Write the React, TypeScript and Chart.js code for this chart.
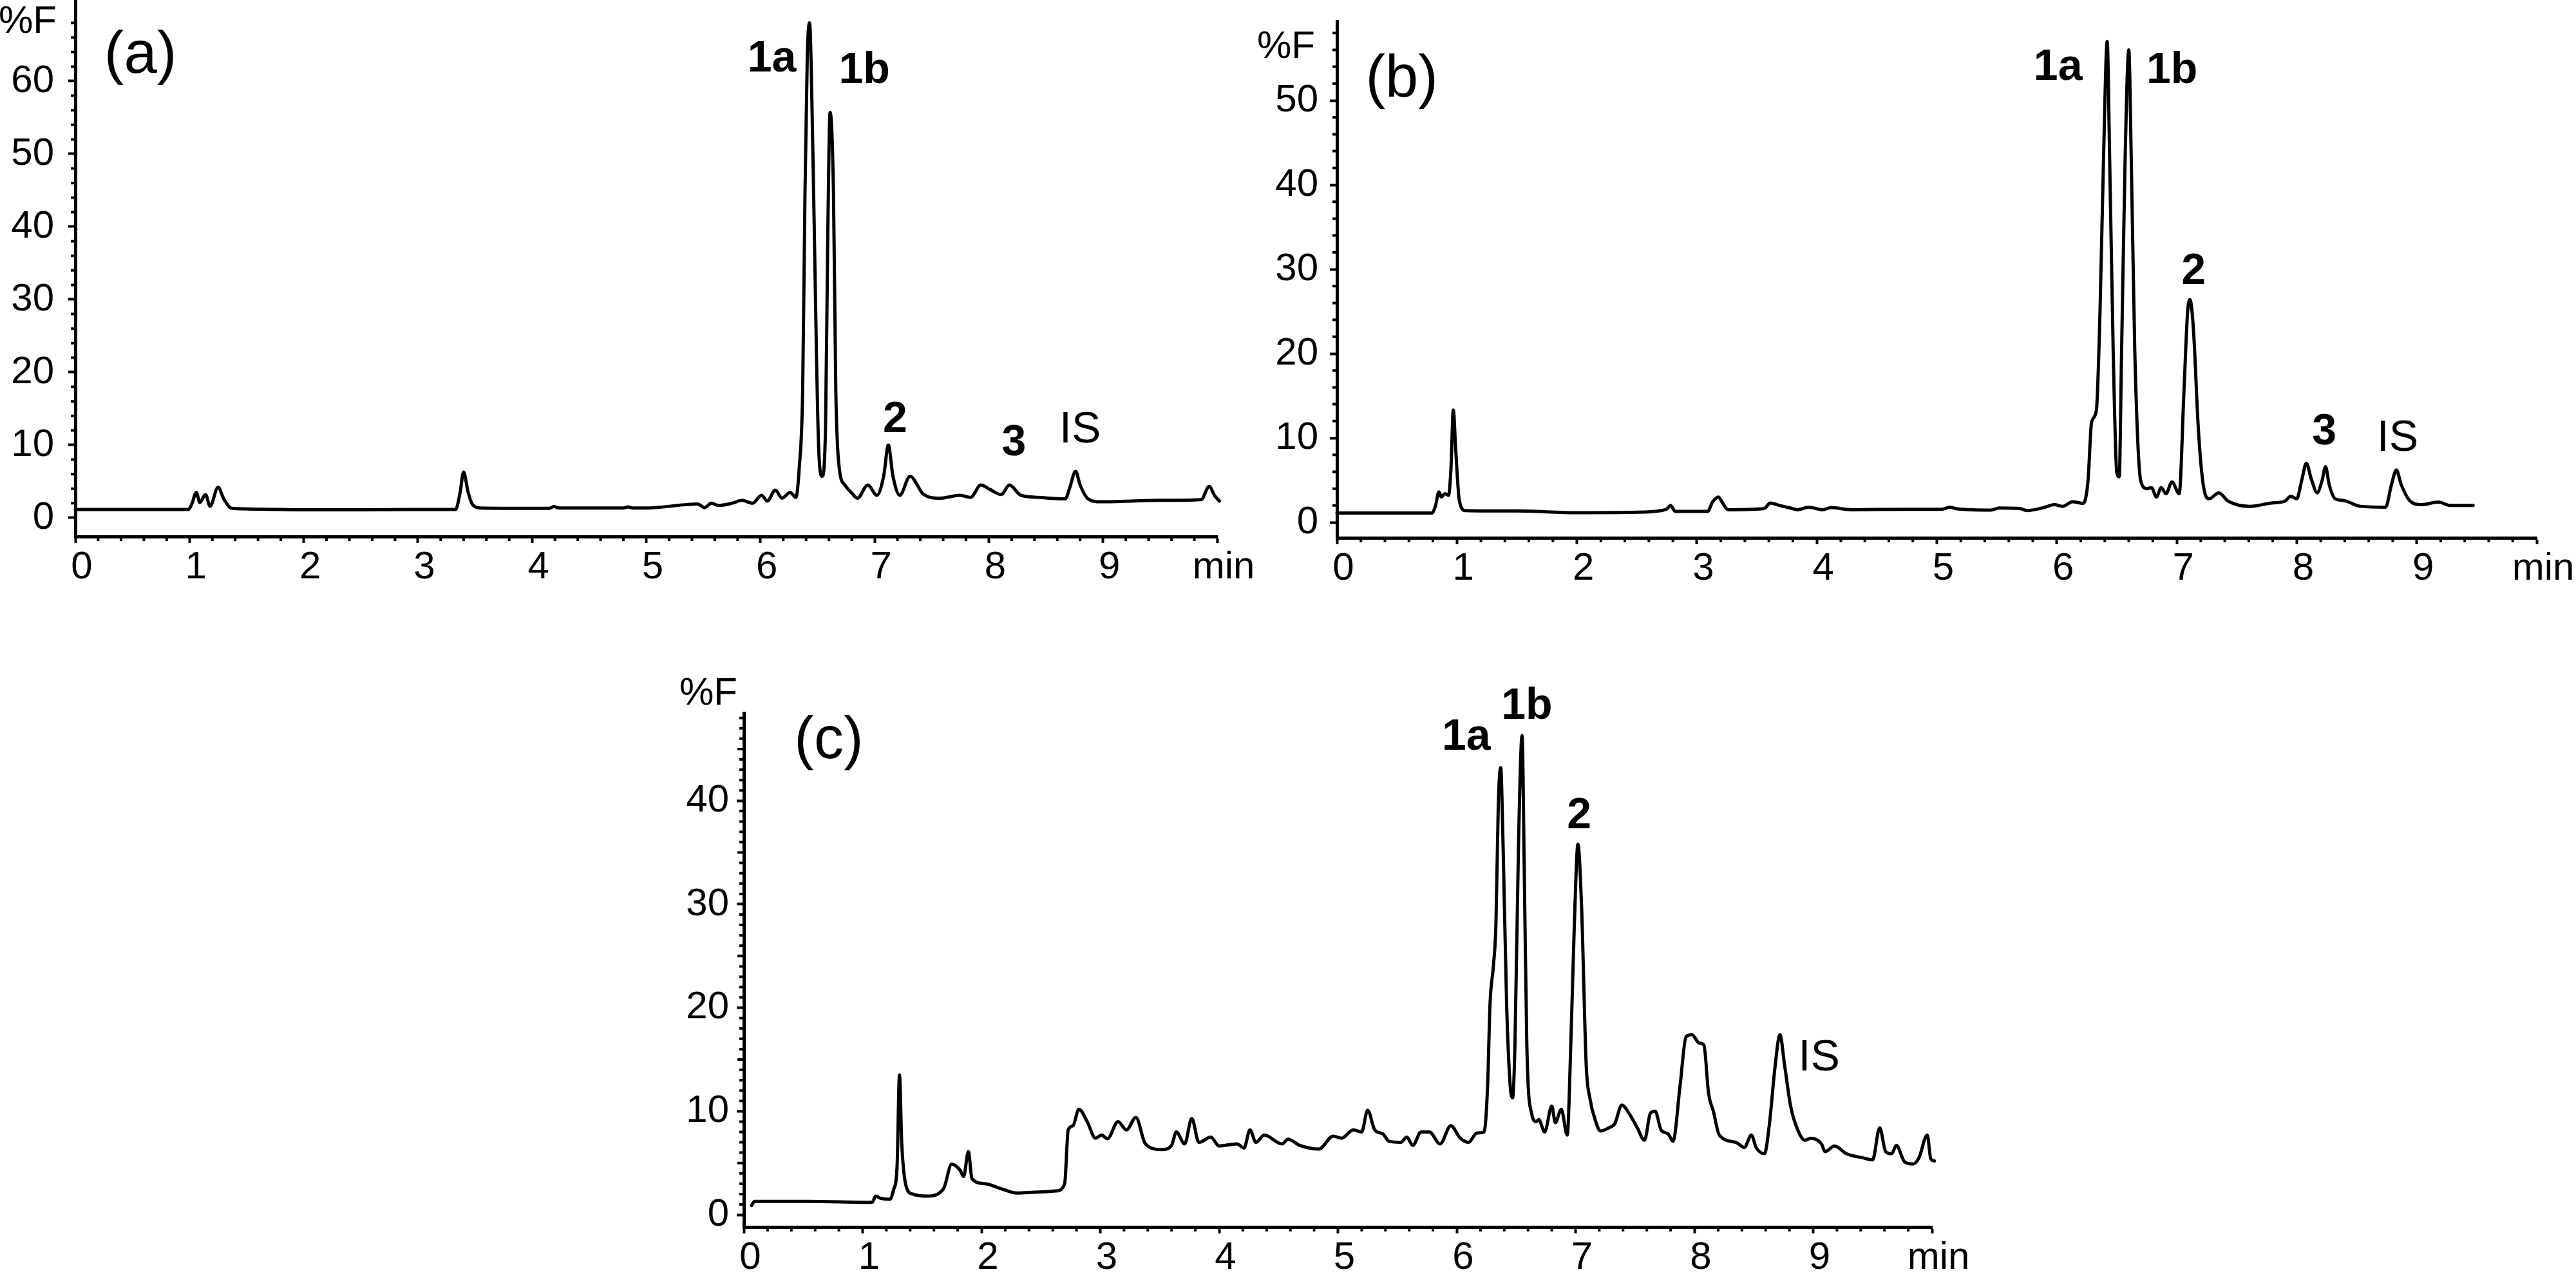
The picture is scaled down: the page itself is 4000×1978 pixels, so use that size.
import React, { useEffect, useRef } from 'react';
import { Chart, registerables } from 'chart.js';

Chart.register(...registerables);

const FONT = "'Liberation Sans', Arial, Helvetica, sans-serif";
Chart.defaults.font.family = FONT;
Chart.defaults.color = '#000';

// ---------- shared tick labels ----------
const xTickLabels = ['0', '1', '2', '3', '4', '5', '6', '7', '8', '9', 'min'];

// ---------- panel (a) ----------
const aTime = [0, 0.99, 1.02, 1.06, 1.09, 1.14, 1.18, 1.25, 1.30, 1.37,
  1.6, 2.0, 2.5, 3.0, 3.33, 3.37, 3.40, 3.44, 3.48, 3.55,
  4.0, 4.15, 4.19, 4.24, 4.8, 4.84, 4.88, 5.0, 5.34, 5.45,
  5.51, 5.57, 5.63, 5.75, 5.84, 5.93, 6.01, 6.06, 6.13, 6.19,
  6.26, 6.31, 6.34, 6.37, 6.39, 6.41, 6.43, 6.46, 6.49, 6.51,
  6.54, 6.57, 6.59, 6.61, 6.64, 6.66, 6.69, 6.74, 6.80, 6.85,
  6.94, 7.02, 7.08, 7.12, 7.16, 7.22, 7.31, 7.43, 7.57, 7.75,
  7.84, 7.93, 8.01, 8.11, 8.18, 8.28, 8.44, 8.67, 8.71, 8.76,
  8.80, 8.87, 8.98, 9.5, 9.86, 9.93, 9.98, 10.02];
const aSignal = [1.15, 1.15, 1.9, 3.5, 2.1, 3.2, 1.6, 4.2, 2.6, 1.3,
  1.2, 1.1, 1.1, 1.15, 1.15, 3.5, 6.3, 3.5, 1.8, 1.35,
  1.3, 1.3, 1.55, 1.35, 1.35, 1.5, 1.35, 1.35, 1.8, 1.9,
  1.4, 2.0, 1.7, 2.0, 2.4, 2.0, 3.1, 2.3, 3.8, 2.7,
  3.5, 2.8, 6.9, 17.6, 44.4, 63.2, 68.0, 49.8, 23.0, 9.6,
  5.7, 12.2, 39.1, 55.7, 44.4, 17.6, 6.9, 4.5, 3.4, 2.7,
  4.5, 3.1, 5.8, 10.0, 5.8, 3.1, 5.7, 3.2, 2.7, 3.1,
  2.8, 4.5, 3.9, 3.2, 4.5, 3.1, 2.8, 2.6, 4.2, 6.4,
  4.5, 2.6, 2.2, 2.4, 2.5, 4.3, 3.0, 2.3];
const aYTicks = [0, 10, 20, 30, 40, 50, 60];
const aPeakNames = ['1a', '1b', '2', '3', 'IS'];
const aPeakTimes = [6.10, 6.91, 7.18, 8.22, 8.80];
const aPeakLevels = [63.0, 61.4, 13.4, 10.2, 12.0];

// ---------- panel (b) ----------
const bTime = [0, 0.79, 0.82, 0.85, 0.87, 0.90, 0.93, 0.95, 0.97, 0.99,
  1.02, 1.07, 1.5, 2.0, 2.5, 2.70, 2.75, 2.78, 2.82, 3.09,
  3.13, 3.18, 3.21, 3.26, 3.54, 3.57, 3.61, 3.69, 3.78, 3.84,
  3.93, 4.05, 4.12, 4.29, 4.69, 5.04, 5.11, 5.17, 5.45, 5.52,
  5.69, 5.75, 5.89, 5.98, 6.05, 6.13, 6.22, 6.26, 6.29, 6.33,
  6.36, 6.39, 6.42, 6.44, 6.47, 6.50, 6.52, 6.54, 6.57, 6.60,
  6.62, 6.65, 6.70, 6.75, 6.79, 6.83, 6.87, 6.91, 6.96, 7.02,
  7.06, 7.09, 7.11, 7.14, 7.18, 7.22, 7.27, 7.35, 7.43, 7.61,
  7.79, 7.90, 7.95, 8.00, 8.04, 8.08, 8.12, 8.17, 8.21, 8.24,
  8.27, 8.32, 8.39, 8.53, 8.74, 8.79, 8.83, 8.87, 8.94, 9.04,
  9.18, 9.28, 9.47];
const bSignal = [1.1, 1.1, 1.9, 3.6, 3.0, 3.4, 3.2, 6.3, 13.3, 8.6,
  2.6, 1.4, 1.35, 1.15, 1.2, 1.4, 1.6, 2.0, 1.3, 1.3,
  2.4, 3.0, 2.4, 1.5, 1.6, 1.7, 2.3, 2.0, 1.7, 1.5,
  1.8, 1.5, 1.75, 1.5, 1.55, 1.55, 1.8, 1.6, 1.45, 1.7,
  1.65, 1.4, 1.75, 2.1, 1.9, 2.45, 2.25, 4.9, 11.9, 13.3,
  24.9, 43.5, 57.0, 43.5, 20.3, 5.9, 5.4, 20.3, 43.5, 56.0,
  43.5, 20.3, 4.9, 4.0, 4.1, 3.0, 4.1, 3.4, 4.8, 3.4,
  15.6, 24.9, 26.4, 22.6, 11.0, 4.5, 2.8, 3.5, 2.5, 1.9,
  2.3, 2.5, 3.1, 2.8, 4.9, 7.0, 5.2, 3.5, 4.9, 6.6,
  4.5, 2.8, 2.6, 1.9, 1.8, 4.5, 6.2, 4.5, 2.6, 2.1,
  2.4, 2.0, 2.0];
const bYTicks = [0, 10, 20, 30, 40, 50];
const bPeakNames = ['1a', '1b', '2', '3', 'IS'];
const bPeakTimes = [6.01, 6.96, 7.14, 8.23, 8.84];
const bPeakLevels = [53.9, 53.5, 29.7, 10.7, 9.9];

// ---------- panel (c) ----------
const cTime = [0.066, 0.09, 0.54, 1.08, 1.11, 1.15, 1.23, 1.26, 1.29, 1.31,
  1.33, 1.37, 1.42, 1.54, 1.68, 1.75, 1.82, 1.85, 1.89, 1.92,
  2.03, 2.17, 2.30, 2.48, 2.63, 2.70, 2.73, 2.77, 2.82, 2.89,
  2.96, 3.01, 3.06, 3.15, 3.22, 3.30, 3.38, 3.52, 3.60, 3.64,
  3.71, 3.77, 3.83, 3.93, 4.00, 4.15, 4.21, 4.26, 4.31, 4.38,
  4.53, 4.58, 4.68, 4.84, 4.96, 5.03, 5.13, 5.20, 5.25, 5.31,
  5.38, 5.43, 5.53, 5.58, 5.63, 5.70, 5.77, 5.86, 5.95, 6.03,
  6.10, 6.17, 6.23, 6.26, 6.28, 6.31, 6.33, 6.35, 6.37, 6.39,
  6.42, 6.45, 6.47, 6.49, 6.52, 6.55, 6.57, 6.59, 6.63, 6.67,
  6.69, 6.74, 6.80, 6.83, 6.88, 6.93, 6.96, 6.99, 7.02, 7.05,
  7.09, 7.12, 7.17, 7.21, 7.28, 7.33, 7.39, 7.45, 7.52, 7.58,
  7.63, 7.67, 7.72, 7.78, 7.82, 7.88, 7.93, 7.98, 8.04, 8.08,
  8.12, 8.16, 8.21, 8.35, 8.42, 8.48, 8.52, 8.59, 8.63, 8.68,
  8.72, 8.76, 8.81, 8.87, 8.93, 8.98, 9.07, 9.10, 9.18, 9.28,
  9.42, 9.50, 9.56, 9.61, 9.66, 9.70, 9.77, 9.84, 9.89, 9.96,
  9.99, 10.02, 10.05];
const cSignal = [0.9, 1.3, 1.3, 1.2, 1.8, 1.6, 1.5, 2.4, 4.7, 13.5,
  6.7, 2.6, 2.0, 1.8, 2.5, 4.9, 4.3, 3.7, 6.1, 3.5,
  3.0, 2.5, 2.1, 2.2, 2.3, 3.0, 8.2, 8.6, 10.2, 9.0,
  7.4, 7.7, 7.35, 9.0, 8.2, 9.4, 6.85, 6.3, 6.7, 8.0,
  6.85, 9.3, 7.0, 7.5, 6.65, 6.85, 6.45, 8.2, 7.0, 7.7,
  6.85, 7.3, 6.7, 6.35, 7.6, 7.4, 8.2, 8.0, 10.1, 8.2,
  7.8, 7.1, 7.0, 7.5, 6.7, 8.0, 8.0, 6.85, 8.6, 7.4,
  7.0, 7.9, 8.0, 12.5, 20.3, 24.2, 28.1, 39.7, 43.2, 35.8,
  20.3, 12.5, 11.3, 16.4, 35.8, 46.3, 31.9, 16.4, 9.8, 9.0,
  9.2, 8.0, 10.5, 8.9, 10.2, 7.7, 16.4, 28.1, 35.8, 30.0,
  14.4, 11.3, 9.0, 8.1, 8.4, 8.8, 10.6, 9.8, 8.4, 7.2,
  9.8, 10.0, 8.2, 7.8, 7.1, 12.5, 17.2, 17.4, 16.6, 16.4,
  11.7, 10.0, 7.7, 7.0, 6.5, 7.7, 6.5, 5.9, 8.6, 14.4,
  17.4, 14.4, 10.5, 8.2, 7.2, 7.4, 6.85, 6.1, 6.65, 5.9,
  5.5, 5.3, 8.4, 6.1, 5.9, 6.7, 5.1, 4.9, 5.5, 7.7,
  5.4, 5.2, 5.0];
const cYTicks = [0, 10, 20, 30, 40];
const cPeakNames = ['1a', '1b', '2', 'IS'];
const cPeakTimes = [6.08, 6.59, 7.03, 9.05];
const cPeakLevels = [46.1, 49.1, 38.5, 15.1];

// ---------- layout / style per panel ----------
const specs = [
  {
    id: 'a', left: 0, top: 0, width: 1990, height: 940,
    yAxisWidth: 117, xAxisHeight: 107, padTop: 0, padRight: 100,
    yMin: -2.57, yMax: 71.15, yTicks: aYTicks, yLabelPad: 22,
    yMinorStep: 2, yMinorTop: 68, yMidEvery: 0,
    time: aTime, signal: aSignal,
    names: aPeakNames, peakT: aPeakTimes, peakV: aPeakLevels,
    tag: '(a)', tagT: 0.57, tagV: 63.4, unitDx: -29, unitV: 68.1,
  },
  {
    id: 'b', left: 1940, top: 0, width: 2060, height: 940,
    yAxisWidth: 136, xAxisHeight: 105, padTop: 33, padRight: 61,
    yMin: -1.83, yMax: 59.39, yTicks: bYTicks, yLabelPad: 18,
    yMinorStep: 2, yMinorTop: 58, yMidEvery: 0,
    time: bTime, signal: bSignal,
    names: bPeakNames, peakT: bPeakTimes, peakV: bPeakLevels,
    tag: '(b)', tagT: 0.54, tagV: 52.4, unitDx: -34, unitV: 56.3,
  },
  {
    id: 'c', left: 1000, top: 1000, width: 2100, height: 978,
    yAxisWidth: 155, xAxisHeight: 73, padTop: 107, padRight: 100,
    yMin: -1.18, yMax: 48.48, yTicks: cYTicks, yLabelPad: 12,
    yMinorStep: 1, yMinorTop: 48, yMidEvery: 5,
    time: cTime, signal: cSignal,
    names: cPeakNames, peakT: cPeakTimes, peakV: cPeakLevels,
    tag: '(c)', tagT: 0.715, tagV: 45.7, unitDx: -10, unitV: 50.3,
  },
];

const minorTicksPlugin = {
  id: 'minorTicks',
  afterDraw(chart: any, _args: any, o: any) {
    const { ctx, chartArea: ca } = chart;
    const x = chart.scales.x;
    const y = chart.scales.y;
    ctx.save();
    ctx.strokeStyle = '#000';
    ctx.lineWidth = 4;
    ctx.beginPath();
    for (let k = 1; k < 50; k++) {
      if (k % 5 === 0) continue;
      const px = x.getPixelForValue(k * 0.2);
      ctx.moveTo(px, ca.bottom);
      ctx.lineTo(px, ca.bottom + 7);
    }
    for (let k = 1; k * o.step <= o.top + 1e-9; k++) {
      const v = k * o.step;
      if (v % 10 === 0) continue;
      const len = o.mid && v % o.mid === 0 ? 10 : 7;
      const py = y.getPixelForValue(v);
      ctx.moveTo(ca.left, py);
      ctx.lineTo(ca.left - len, py);
    }
    ctx.stroke();
    ctx.restore();
  },
};

const textPlugin = {
  id: 'peakText',
  afterDraw(chart: any, _args: any, o: any) {
    const { ctx, chartArea: ca } = chart;
    const x = chart.scales.x;
    const y = chart.scales.y;
    ctx.save();
    ctx.fillStyle = '#000';
    ctx.textBaseline = 'middle';
    ctx.textAlign = 'center';
    o.names.forEach((n: string, i: number) => {
      const bold = n !== 'IS';
      ctx.font = `${bold ? 'bold ' : ''}68px ${FONT}`;
      ctx.fillText(n, x.getPixelForValue(o.peakT[i]), y.getPixelForValue(o.peakV[i]));
    });
    ctx.font = `92px ${FONT}`;
    ctx.fillText(o.tag, x.getPixelForValue(o.tagT), y.getPixelForValue(o.tagV));
    ctx.textAlign = 'right';
    ctx.font = `60px ${FONT}`;
    ctx.fillText('%F', ca.left + o.unitDx, y.getPixelForValue(o.unitV));
    ctx.restore();
  },
};

function Panel({ spec }: { spec: any }) {
  const ref = useRef<HTMLCanvasElement>(null);
  useEffect(() => {
    const chart = new Chart(ref.current as HTMLCanvasElement, {
      type: 'line',
      data: {
        datasets: [
          {
            data: spec.time.map((t: number, i: number) => ({ x: t, y: spec.signal[i] })),
            borderColor: '#000',
            borderWidth: 5,
            pointRadius: 0,
            fill: false,
            cubicInterpolationMode: 'monotone',
            borderJoinStyle: 'round',
            borderCapStyle: 'round',
            clip: false,
          } as any,
        ],
      },
      options: {
        animation: false,
        responsive: false,
        devicePixelRatio: 1,
        events: [],
        layout: { padding: { top: spec.padTop, right: spec.padRight, left: 0, bottom: 0 } },
        plugins: {
          legend: { display: false },
          tooltip: { enabled: false },
          minorTicks: { step: spec.yMinorStep, top: spec.yMinorTop, mid: spec.yMidEvery },
          peakText: {
            names: spec.names, peakT: spec.peakT, peakV: spec.peakV,
            tag: spec.tag, tagT: spec.tagT, tagV: spec.tagV,
            unitDx: spec.unitDx, unitV: spec.unitV,
          },
        } as any,
        scales: {
          x: {
            type: 'linear',
            min: 0,
            max: 10,
            afterBuildTicks: (s: any) => {
              s.ticks = xTickLabels.map((_l, i) => ({ value: i }));
            },
            afterFit: (s: any) => {
              s.height = spec.xAxisHeight;
              s.paddingLeft = 0;
              s.paddingRight = 0;
            },
            ticks: {
              autoSkip: false,
              maxRotation: 0,
              minRotation: 0,
              padding: 8,
              labelOffset: 10,
              color: '#000',
              font: { size: 60, family: FONT, lineHeight: 1 },
              callback: (_v: any, i: number) => xTickLabels[i],
            },
            grid: {
              drawOnChartArea: false,
              drawTicks: true,
              tickLength: 10,
              tickWidth: 4,
              tickColor: '#000',
              color: '#000',
            },
            border: { display: true, color: '#000', width: 5 },
          },
          y: {
            type: 'linear',
            min: spec.yMin,
            max: spec.yMax,
            afterBuildTicks: (s: any) => {
              s.ticks = spec.yTicks.map((v: number) => ({ value: v }));
            },
            afterFit: (s: any) => {
              s.width = spec.yAxisWidth;
              s.paddingTop = 0;
              s.paddingBottom = 0;
            },
            ticks: {
              padding: spec.yLabelPad,
              color: '#000',
              font: { size: 60, family: FONT, lineHeight: 1 },
            },
            grid: {
              drawOnChartArea: false,
              drawTicks: true,
              tickLength: 11,
              tickWidth: 4,
              tickColor: '#000',
              color: '#000',
            },
            border: { display: true, color: '#000', width: 5 },
          },
        } as any,
      },
      plugins: [minorTicksPlugin, textPlugin],
    });
    return () => chart.destroy();
  }, [spec]);
  return (
    <canvas
      ref={ref}
      width={spec.width}
      height={spec.height}
      style={{ position: 'absolute', left: spec.left, top: spec.top, width: spec.width, height: spec.height }}
    />
  );
}

export default function App() {
  useEffect(() => {
    document.body.style.margin = '0';
    document.body.style.overflow = 'hidden';
  }, []);
  return (
    <div style={{ position: 'absolute', left: 0, top: 0, width: 4000, height: 1978, background: '#fff', overflow: 'hidden' }}>
      {specs.map((s) => (
        <Panel key={s.id} spec={s} />
      ))}
    </div>
  );
}
